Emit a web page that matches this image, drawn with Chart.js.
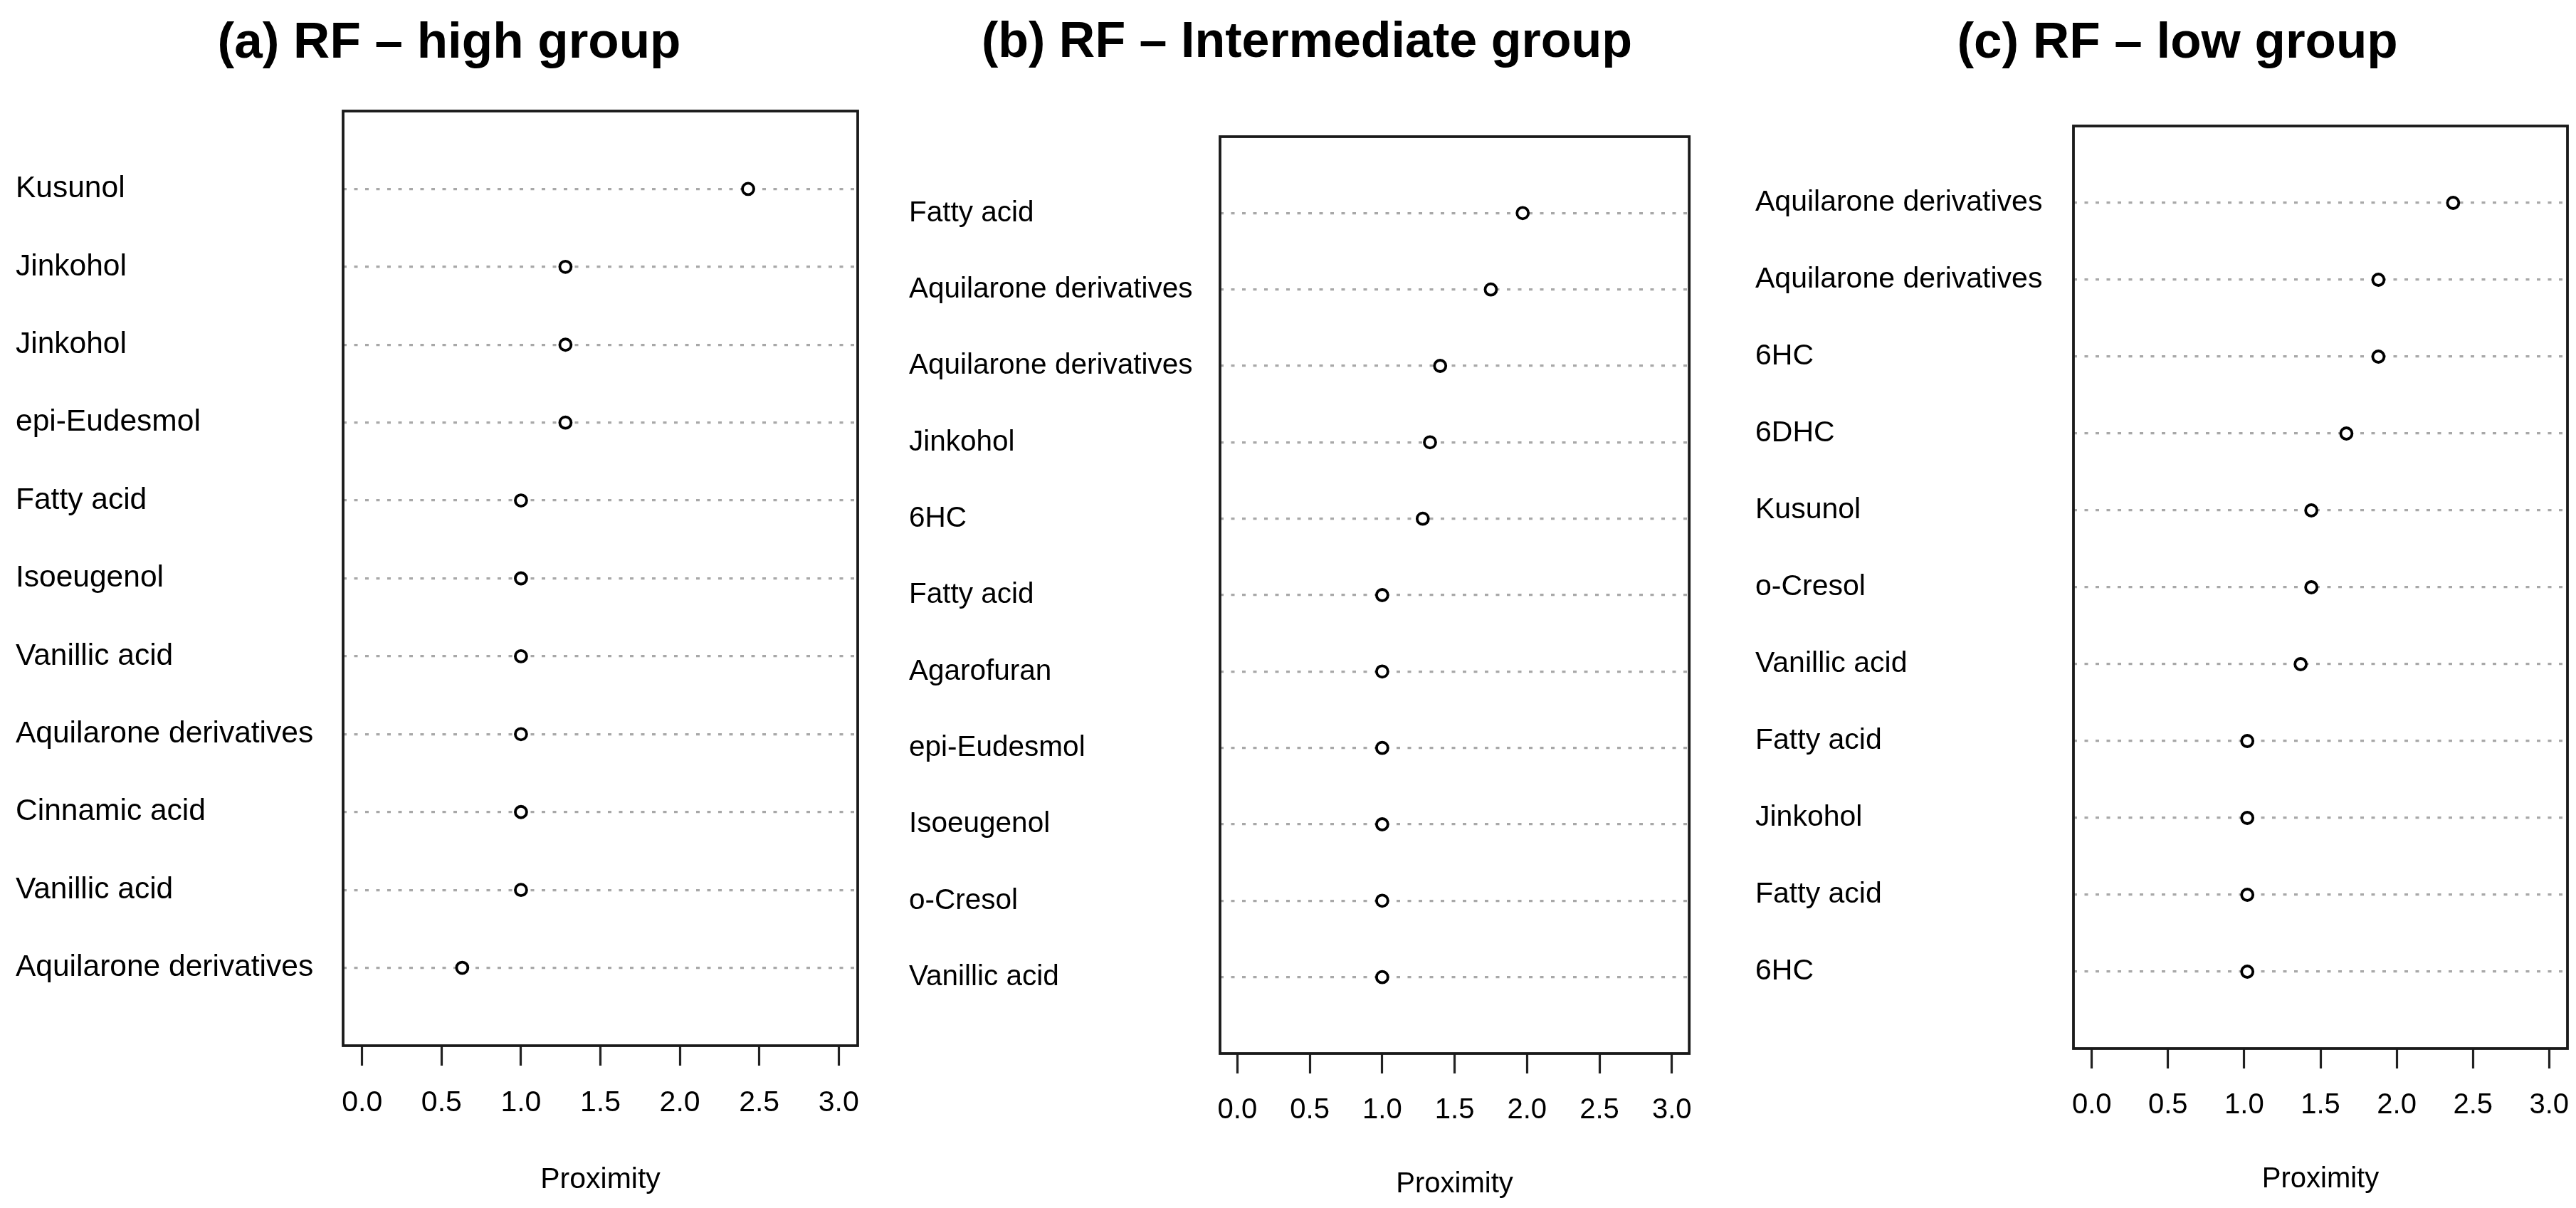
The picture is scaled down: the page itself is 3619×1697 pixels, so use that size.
<!DOCTYPE html>
<html>
<head>
<meta charset="utf-8">
<script src="https://cdn.jsdelivr.net/npm/chart.js@4/dist/chart.umd.min.js"></script>
<style>
  html, body { margin: 0; padding: 0; background: #fff; overflow: hidden; }
  body { width: 3619px; height: 1697px; position: relative; }
  canvas { position: absolute; top: 0; }
</style>
</head>
<body>
<canvas id="panelA"></canvas>
<canvas id="panelB"></canvas>
<canvas id="panelC"></canvas>
<script>
// rows are listed top to bottom, as they appear in each dot chart
const titleA = '(a) RF – high group';
const labelsA = ['Kusunol', 'Jinkohol', 'Jinkohol', 'epi-Eudesmol', 'Fatty acid', 'Isoeugenol',
  'Vanillic acid', 'Aquilarone derivatives', 'Cinnamic acid', 'Vanillic acid', 'Aquilarone derivatives'];
const valuesA = [2.43, 1.28, 1.28, 1.28, 1.0, 1.0, 1.0, 1.0, 1.0, 1.0, 0.63];

const titleB = '(b) RF – Intermediate group';
const labelsB = ['Fatty acid', 'Aquilarone derivatives', 'Aquilarone derivatives', 'Jinkohol', '6HC',
  'Fatty acid', 'Agarofuran', 'epi-Eudesmol', 'Isoeugenol', 'o-Cresol', 'Vanillic acid'];
const valuesB = [1.97, 1.75, 1.40, 1.33, 1.28, 1.0, 1.0, 1.0, 1.0, 1.0, 1.0];

const titleC = '(c) RF – low group';
const labelsC = ['Aquilarone derivatives', 'Aquilarone derivatives', '6HC', '6DHC', 'Kusunol', 'o-Cresol',
  'Vanillic acid', 'Fatty acid', 'Jinkohol', 'Fatty acid', '6HC'];
const valuesC = [2.37, 1.88, 1.88, 1.67, 1.44, 1.44, 1.37, 1.02, 1.02, 1.02, 1.02];

const proximityTicks = [0, 0.5, 1, 1.5, 2, 2.5, 3];
const axisTitle = 'Proximity';

Chart.defaults.font.family = '"Liberation Sans", Arial, sans-serif';
Chart.defaults.color = '#000';

// black box round the plotting region, like R's box()
const framePlugin = {
  id: 'frame',
  beforeDatasetsDraw(chart) {
    const ctx = chart.ctx;
    const a = chart.chartArea;
    ctx.save();
    ctx.strokeStyle = '#1a1a1a';
    ctx.lineWidth = 3.8;
    ctx.strokeRect(a.left, a.top, a.right - a.left, a.bottom - a.top);
    ctx.restore();
  }
};

function makePanel(id, title, labels, values, box) {
  const n = labels.length;
  const canvas = document.getElementById(id);
  const left = box.labelLeft - 10;
  // spare room on the right so the title sits where it does in the figure
  const rightPad = Math.max(0, 2 * box.titleCenter - box.labelLeft - box.right);
  const width = box.right + rightPad + 10 - left;
  const height = box.bottom + box.axisHeight;
  canvas.width = width;
  canvas.height = height;
  canvas.style.left = left + 'px';
  canvas.style.width = width + 'px';
  canvas.style.height = height + 'px';

  const span = proximityTicks[proximityTicks.length - 1] - proximityTicks[0];
  const points = values.map((v, i) => ({ x: v, y: n - i }));
  const titleLine = box.titleSize * 1.2;

  new Chart(canvas, {
    type: 'scatter',
    data: {
      datasets: [{
        data: points,
        xAxisID: 'x',
        yAxisID: 'y',
        pointStyle: 'circle',
        pointRadius: 8,
        pointHoverRadius: 8,
        pointBorderWidth: 3.8,
        pointBorderColor: '#000',
        pointBackgroundColor: '#fff'
      }]
    },
    options: {
      responsive: false,
      animation: false,
      events: [],
      layout: { padding: { left: 10, right: 10, top: 0, bottom: 0 } },
      plugins: {
        legend: { display: false },
        tooltip: { enabled: false },
        title: {
          display: true,
          text: title,
          color: '#000',
          font: { size: box.titleSize, weight: 'bold' },
          padding: { top: 61 - titleLine / 2, bottom: box.top - 61 - titleLine / 2 }
        }
      },
      scales: {
        y: {
          type: 'linear',
          position: 'left',
          min: 0,
          max: n + 1,
          afterBuildTicks: axis => { axis.ticks = labels.map((_, i) => ({ value: n - i })); },
          afterFit: axis => { axis.width = box.left - box.labelLeft; },
          grid: { color: '#a8a8a8', lineWidth: 3.2, drawTicks: false },
          border: { display: false, dash: [5, 10.5] },
          ticks: {
            crossAlign: 'far',
            padding: 0,
            autoSkip: false,
            color: '#000',
            font: { size: box.labelSize },
            callback: v => labels[n - v]
          }
        },
        pad: {
          type: 'linear',
          position: 'right',
          display: true,
          grid: { display: false },
          border: { display: false },
          ticks: { display: false },
          afterFit: axis => { axis.width = rightPad; }
        },
        x: {
          type: 'linear',
          position: 'bottom',
          min: proximityTicks[0] - 0.04 * span,
          max: proximityTicks[proximityTicks.length - 1] + 0.04 * span,
          afterBuildTicks: axis => { axis.ticks = proximityTicks.map(v => ({ value: v })); },
          afterFit: axis => { axis.height = box.axisHeight; },
          grid: { drawOnChartArea: false, drawTicks: true, tickLength: 28, tickWidth: 3.2, tickColor: '#222' },
          border: { display: false },
          ticks: {
            padding: 28,
            autoSkip: false,
            maxRotation: 0,
            color: '#000',
            font: { size: box.tickSize },
            callback: v => v.toFixed(1)
          },
          title: { display: true, text: axisTitle, color: '#000', font: { size: box.tickSize }, padding: 0 }
        }
      }
    },
    plugins: [framePlugin]
  });
}

makePanel('panelA', titleA, labelsA, valuesA, {
  labelLeft: 22, left: 482, right: 1205, top: 156, bottom: 1469, axisHeight: 213,
  titleCenter: 631, titleSize: 71, labelSize: 42.5, tickSize: 41
});
makePanel('panelB', titleB, labelsB, valuesB, {
  labelLeft: 1277, left: 1714, right: 2395, top: 192, bottom: 1480, axisHeight: 208,
  titleCenter: 1834, titleSize: 70, labelSize: 40.5, tickSize: 40
});
makePanel('panelC', titleC, labelsC, valuesC, {
  labelLeft: 2466, left: 2913, right: 3607, top: 177, bottom: 1473, axisHeight: 208,
  titleCenter: 3059, titleSize: 71, labelSize: 41, tickSize: 40
});
</script>
</body>
</html>
